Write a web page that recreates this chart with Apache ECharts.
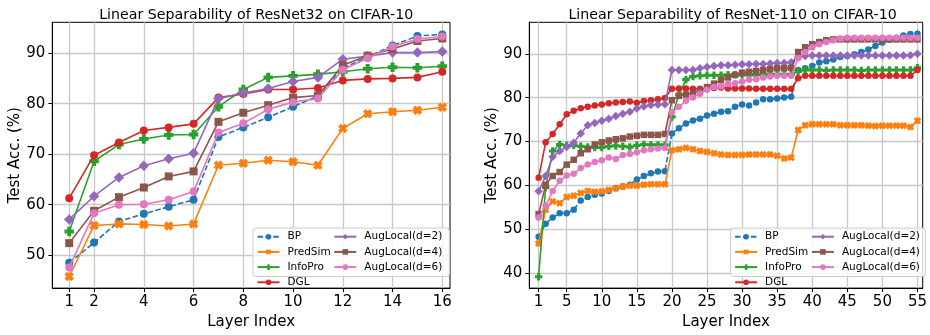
<!DOCTYPE html>
<html>
<head>
<meta charset="utf-8">
<script src="https://cdn.jsdelivr.net/npm/echarts@6/dist/echarts.min.js"></script>
<style>html,body{margin:0;padding:0;background:#fff;}#c{width:930px;height:335px;}</style>
</head>
<body>
<div id="c"></div>
<script>
// ---------------- data ----------------
const titles = ['Linear Separability of ResNet32 on CIFAR-10', 'Linear Separability of ResNet-110 on CIFAR-10'];
const seriesNames = ['BP', 'PredSim', 'InfoPro', 'DGL', 'AugLocal(d=2)', 'AugLocal(d=4)', 'AugLocal(d=6)'];

const layers32 = [1,2,3,4,5,6,7,8,9,10,11,12,13,14,15,16];
const xTicks32 = [1,2,4,6,8,10,12,14,16];
const yTicks32 = [50,60,70,80,90];

const r32_BP      = [48.5,52.5,56.7,58.2,59.6,61.0,73.4,75.3,77.3,79.4,81.5,87.0,89.2,91.5,93.4,93.7];
const r32_PredSim = [45.8,55.9,56.2,56.1,55.8,56.2,67.8,68.2,68.8,68.5,67.8,75.1,78.0,78.4,78.7,79.3];
const r32_InfoPro = [54.7,68.6,71.9,73.0,73.8,73.9,79.4,82.8,85.2,85.5,85.8,86.3,86.9,87.2,87.1,87.4];
const r32_DGL     = [61.3,69.8,72.3,74.7,75.3,76.0,81.2,81.9,82.8,82.8,83.1,84.6,84.9,85.0,85.2,86.3];
const r32_d2      = [57.1,61.7,65.4,67.7,69.1,70.2,81.0,82.1,83.0,84.4,85.2,88.8,89.4,90.1,90.1,90.3];
const r32_d4      = [52.4,58.8,61.5,63.4,65.6,66.6,76.4,78.2,79.7,81.2,81.6,87.6,89.5,90.8,92.4,92.9];
const r32_d6      = [47.6,58.3,60.0,60.1,61.0,62.6,74.3,76.1,78.9,80.3,81.0,86.7,89.0,91.3,92.8,93.3];

const layers110 = [1,2,3,4,5,6,7,8,9,10,11,12,13,14,15,16,17,18,19,20,21,22,23,24,25,26,27,28,29,30,31,32,33,34,35,36,37,38,39,40,41,42,43,44,45,46,47,48,49,50,51,52,53,54,55];
const xTicks110 = [1,5,10,15,20,25,30,35,40,45,50,55];
const yTicks110 = [40,50,60,70,80,90];

const r110_BP = [48.2,51.2,52.6,53.6,53.6,54.4,56.5,57.3,57.8,58.1,58.7,59.3,59.7,60.1,61.3,62.1,62.7,63.1,63.2,
  71.8,73.0,74.1,74.8,75.2,75.9,76.3,76.8,76.9,77.9,78.4,78.2,78.9,79.6,79.6,79.8,80.0,80.2,
  86.3,86.7,87.2,88.0,88.3,88.7,89.3,89.5,89.9,90.4,91.0,91.8,92.6,93.2,93.7,94.2,94.5,94.6];
const r110_PredSim = [46.7,54.4,56.3,55.9,57.3,57.6,58.2,58.7,58.5,58.6,58.9,59.3,59.7,59.9,59.9,60.1,60.2,60.2,60.2,
  68.0,68.2,68.5,68.2,67.8,67.6,67.3,67.0,66.9,66.9,66.9,67.0,67.0,67.0,67.0,66.7,66.1,66.3,
  72.6,73.7,73.9,73.9,73.9,73.9,73.7,73.7,73.7,73.7,73.6,73.5,73.6,73.6,73.6,73.6,73.3,74.7];
const r110_InfoPro = [39.1,59.5,67.8,69.3,69.1,69.1,68.9,68.7,68.6,68.6,68.9,69.0,68.9,68.7,69.1,69.3,69.2,69.2,69.2,
  75.6,80.7,84.1,84.8,85.0,85.1,85.1,85.1,85.2,85.2,85.2,85.2,85.2,85.3,85.3,85.3,85.3,85.3,
  86.0,86.3,86.3,86.3,86.2,86.3,86.3,86.3,86.3,86.2,86.3,86.3,86.3,86.3,86.3,86.3,86.3,86.8];
const r110_DGL = [61.7,69.8,71.7,73.9,76.2,77.0,77.6,77.9,78.2,78.4,78.7,78.9,79.0,79.1,78.8,79.2,79.4,79.6,79.9,
  82.0,82.1,82.1,82.0,82.0,82.1,82.2,82.3,82.1,82.1,82.1,82.1,82.0,82.0,82.0,82.0,82.0,82.0,
  84.4,85.0,85.0,85.0,85.0,85.0,85.0,85.0,85.0,85.0,85.0,85.0,85.0,85.0,85.0,85.0,85.0,86.3];
const r110_d2 = [58.6,62.1,66.5,67.8,68.7,69.7,71.8,73.7,74.2,74.7,75.2,75.8,76.3,76.8,77.5,78.0,78.3,78.4,78.5,
  86.3,86.3,86.3,86.3,86.7,87.0,87.2,87.4,87.4,87.5,87.6,87.6,87.7,87.7,87.8,87.9,87.9,88.1,
  89.3,89.5,89.6,89.6,89.6,89.6,89.6,89.6,89.6,89.6,89.6,89.6,89.6,89.6,89.6,89.6,89.7,90.0];
const r110_d4 = [53.4,60.1,62.1,63.0,64.7,65.8,67.3,68.2,69.3,69.8,70.2,70.5,70.7,71.1,71.3,71.5,71.5,71.5,71.7,
  79.4,80.4,80.7,81.1,81.6,82.4,83.2,84.0,84.6,85.2,85.7,85.9,86.1,86.3,86.5,86.7,86.7,86.8,
  90.4,91.5,92.2,92.7,93.1,93.3,93.3,93.3,93.3,93.3,93.3,93.3,93.3,93.3,93.3,93.3,93.3,93.3];
const r110_d6 = [52.6,55.3,58.7,61.0,62.2,62.6,63.9,64.7,65.3,65.7,66.3,66.0,66.9,67.1,67.5,68.0,68.2,68.4,68.5,
  76.7,77.9,79.3,80.0,80.9,81.8,82.4,82.6,83.1,83.3,83.7,84.1,84.2,84.6,84.8,85.0,85.0,85.0,
  89.0,90.4,91.5,92.2,92.7,93.1,93.5,93.7,93.7,93.7,93.7,93.7,93.7,93.7,93.7,93.7,93.7,93.7];

// ---------------- styles ----------------
const FONT = 'DejaVu Sans';
const colors = ['#1f77b4','#ff7f0e','#2ca02c','#d62728','#9467bd','#8c564b','#e377c2'];
const PLUS = 'path://M-1.25,-3H1.25V-1.25H3V1.25H1.25V3H-1.25V1.25H-3V-1.25H-1.25Z';
const DIAMOND = 'path://M0,-1L1,0L0,1L-1,0Z';
const symbols = ['circle', PLUS, PLUS, 'circle', DIAMOND, 'rect', 'circle'];
const rotates = [0, 45, 0, 0, 0, 0, 0];
const sizes32 = [8, 9.5, 9.5, 8, 10.5, 8, 8];
const sizes110 = [6.5, 7.5, 7.5, 6.5, 8.5, 6.5, 6.5];

const data32 = [r32_BP, r32_PredSim, r32_InfoPro, r32_DGL, r32_d2, r32_d4, r32_d6];
const data110 = [r110_BP, r110_PredSim, r110_InfoPro, r110_DGL, r110_d2, r110_d4, r110_d6];

function pairs(xs, ys) { return xs.map((x, i) => [x, ys[i]]); }

const series = [];
[[layers32, data32, sizes32], [layers110, data110, sizes110]].forEach(([xs, ds, sz], g) => {
  ds.forEach((ys, k) => {
    series.push({
      type: 'line', name: seriesNames[k], xAxisIndex: g, yAxisIndex: g,
      data: pairs(xs, ys),
      symbol: symbols[k], symbolSize: sz[k], symbolRotate: rotates[k], showAllSymbol: true,
      lineStyle: { color: colors[k], width: 1.6, type: k === 0 ? [5.5, 2.4] : 'solid' },
      itemStyle: { color: colors[k] },
      emphasis: { disabled: true }, animation: false, z: 3 + k
    });
  });
});

const grids = [
  { left: 52.3, top: 22.3, width: 397.7, height: 274.4 },
  { left: 529.3, top: 22.3, width: 396.7, height: 274.4 }
];
grids.forEach(g => Object.assign(g, { show: true, borderColor: '#000', borderWidth: 1, backgroundColor: 'rgba(0,0,0,0)' }));

function xAxis(g, min, max, ticks) {
  return {
    type: 'value', gridIndex: g, min, max,
    name: 'Layer Index', nameLocation: 'middle', nameGap: 25,
    nameTextStyle: { fontFamily: FONT, fontSize: 15, color: '#000', verticalAlign: 'top' },
    axisLine: { show: true, onZero: false, lineStyle: { color: '#000', width: 1 } },
    axisTick: { show: true, length: 4, customValues: ticks, lineStyle: { color: '#000' } },
    axisLabel: { customValues: ticks, margin: 7, fontFamily: FONT, fontSize: 15, color: '#000' },
    splitLine: { show: true, lineStyle: { color: '#c8c8c8', width: 1.3 } }
  };
}
function yAxis(g, min, max, ticks) {
  return {
    type: 'value', gridIndex: g, min, max,
    name: 'Test Acc. (%)', nameLocation: 'middle', nameGap: 24,
    nameTextStyle: { fontFamily: FONT, fontSize: 15, color: '#000' },
    axisLine: { show: true, onZero: false, lineStyle: { color: '#000', width: 1 } },
    axisTick: { show: true, length: 4, customValues: ticks, lineStyle: { color: '#000' } },
    axisLabel: { customValues: ticks, margin: 7, fontFamily: FONT, fontSize: 15, color: '#000' },
    splitLine: { show: true, lineStyle: { color: '#c8c8c8', width: 1.3 } }
  };
}

function legends(left, padRight) {
  const common = {
    orient: 'vertical', top: 228, itemWidth: 22, itemHeight: 7, itemGap: 3.2,
    textStyle: { fontFamily: FONT, fontSize: 10.5, color: '#000', lineHeight: 12, padding: [0, 0, 0, 3] },
    selectedMode: false
  };
  return [
    Object.assign({}, common, { left: left, padding: [2.7, 4, 3.4, 3.5], data: seriesNames.slice(0, 4), z: 6 }),
    Object.assign({}, common, { left: left, padding: [2.7, padRight, 3.4, 80.3], data: seriesNames.slice(4),
      backgroundColor: 'rgba(255,255,255,0.8)', borderColor: '#cccccc', borderWidth: 1, borderRadius: 3, z: 5 })
  ];
}

const option = {
  animation: false,
  backgroundColor: '#fff',
  color: colors,
  title: [
    { text: titles[0], left: 251.2, textAlign: 'center', top: 3, textStyle: { fontFamily: FONT, fontSize: 14.2, fontWeight: 'normal', color: '#000' } },
    { text: titles[1], left: 727.6, textAlign: 'center', top: 3, textStyle: { fontFamily: FONT, fontSize: 14.2, fontWeight: 'normal', color: '#000' } }
  ],
  grid: grids,
  xAxis: [xAxis(0, 0.32, 16.31, xTicks32), xAxis(1, -0.33, 55.75, xTicks110)],
  yAxis: [yAxis(0, 43.5, 96.1, yTicks32), yAxis(1, 36.5, 97.2, yTicks110)],
  legend: legends(253, 7).concat(legends(730.6, 5.5)),
  series: series
};

const chart = echarts.init(document.getElementById('c'), null, { renderer: 'canvas' });
chart.setOption(option);
</script>
</body>
</html>
